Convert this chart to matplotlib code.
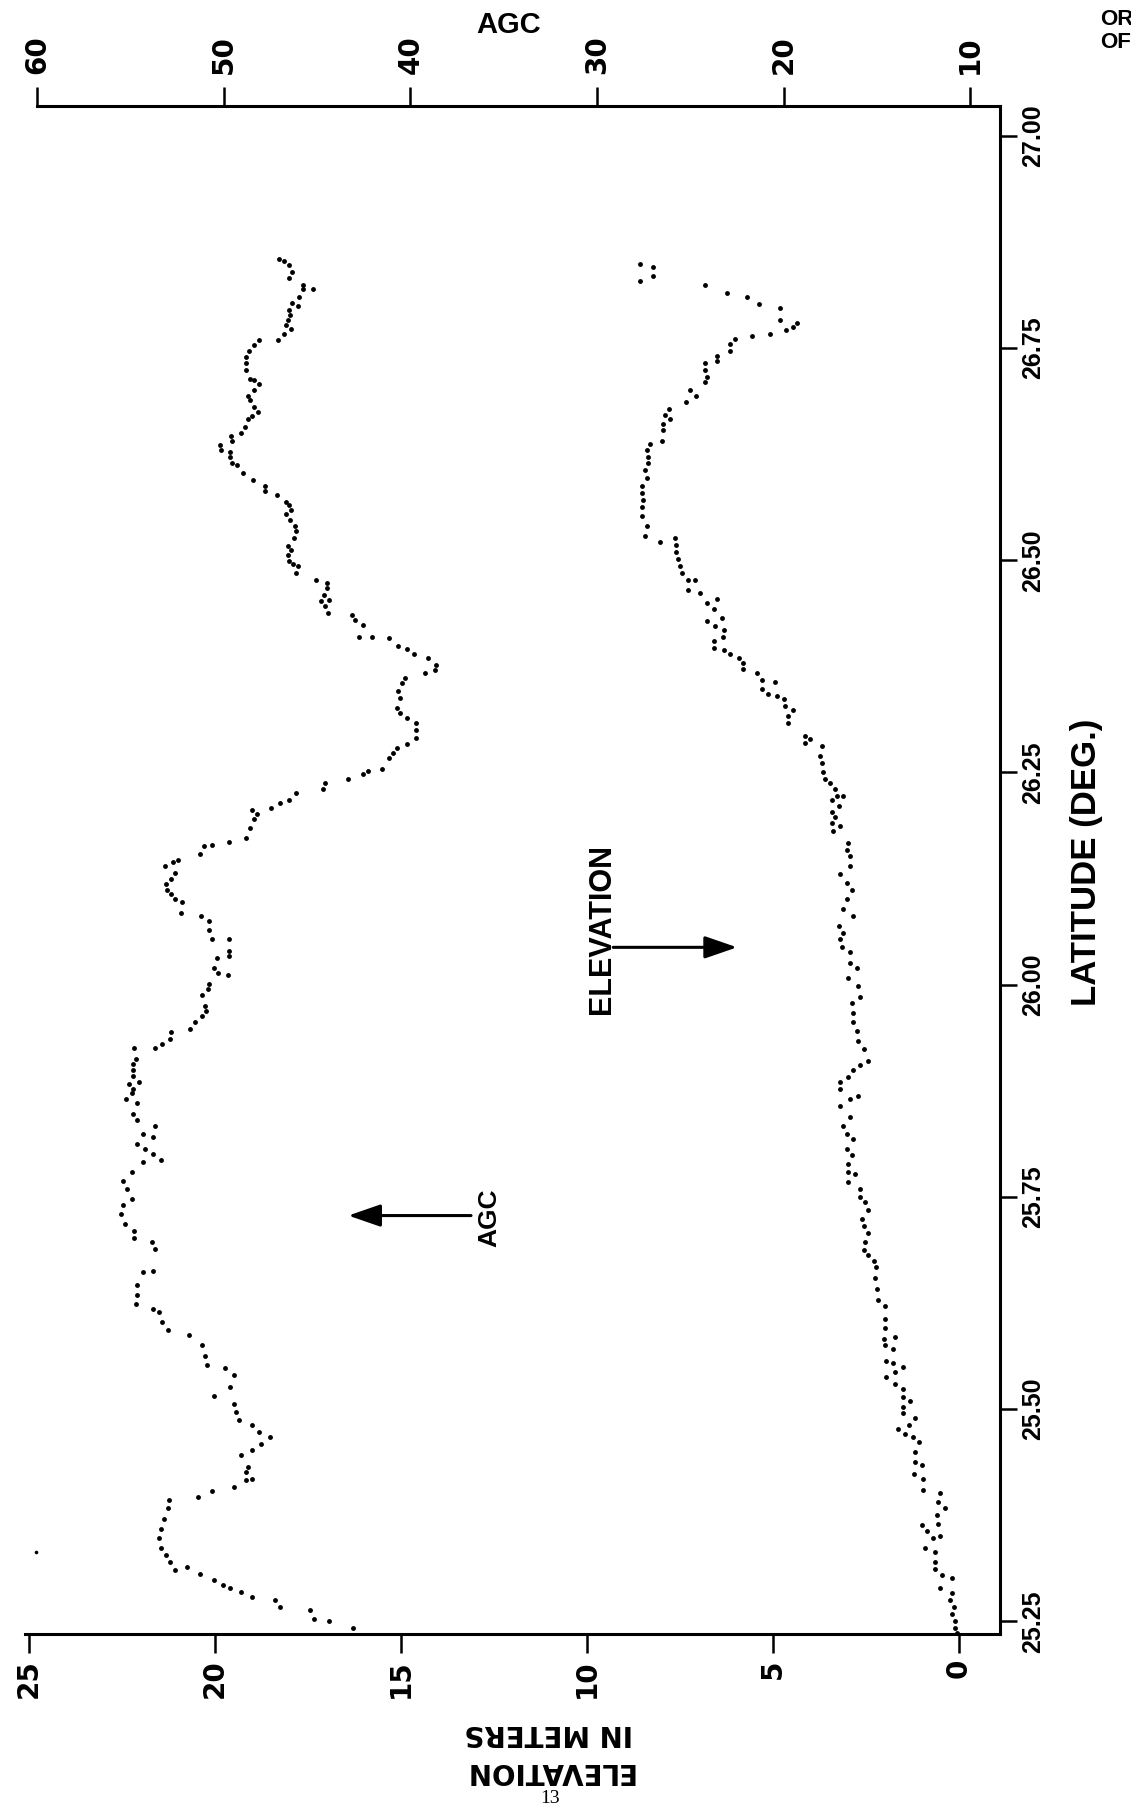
import numpy as np
import matplotlib
matplotlib.use("Agg")
import matplotlib.pyplot as plt

# AGC record, read from top (north) to bottom
agc_lat = [26.855, 26.853, 26.848, 26.840, 26.832, 26.824, 26.820, 26.820, 26.810, 26.803,
           26.799, 26.795, 26.789, 26.783, 26.777, 26.773, 26.767, 26.760, 26.759, 26.754,
           26.746, 26.740, 26.732, 26.724, 26.714, 26.712, 26.708, 26.701, 26.693, 26.689,
           26.681, 26.675, 26.670, 26.666, 26.657, 26.650, 26.646, 26.640, 26.636, 26.630,
           26.628, 26.622, 26.614, 26.612, 26.603, 26.595, 26.587, 26.581, 26.577, 26.569,
           26.565, 26.559, 26.555, 26.548, 26.540, 26.534, 26.526, 26.517, 26.512, 26.506,
           26.499, 26.495, 26.493, 26.485, 26.477, 26.473, 26.467, 26.459, 26.453, 26.452,
           26.446, 26.438, 26.436, 26.430, 26.424, 26.410, 26.410, 26.408,
           26.399, 26.395, 26.389, 26.385, 26.377, 26.371, 26.367, 26.361, 26.355, 26.346,
           26.338, 26.326, 26.320, 26.314, 26.308, 26.300, 26.291, 26.284, 26.279, 26.273,
           26.267, 26.254, 26.252, 26.248, 26.242, 26.238, 26.230, 26.226, 26.218, 26.214,
           26.208, 26.206, 26.201, 26.195, 26.185, 26.173, 26.168, 26.165, 26.163, 26.154,
           26.147, 26.145, 26.140, 26.132, 26.125, 26.119, 26.112, 26.107, 26.101, 26.097,
           26.085, 26.081, 26.075, 26.065, 26.054, 26.054, 26.040, 26.034, 26.031, 26.020,
           26.014, 26.011, 26.001, 25.995, 25.988, 25.975, 25.969, 25.963, 25.956, 25.948,
           25.944, 25.936, 25.930, 25.925, 25.925, 25.913, 25.907, 25.899, 25.893, 25.885,
           25.883, 25.877, 25.872, 25.865, 25.861, 25.848, 25.840, 25.834, 25.824, 25.820,
           25.812, 25.806, 25.801, 25.793, 25.791, 25.779, 25.769, 25.759, 25.748, 25.740,
           25.730, 25.718, 25.710, 25.702, 25.697, 25.689, 25.663, 25.661, 25.646, 25.634,
           25.624, 25.618, 25.614, 25.603, 25.593, 25.587, 25.575, 25.563, 25.552, 25.548,
           25.540, 25.526, 25.516, 25.506, 25.497, 25.487, 25.481, 25.473, 25.467, 25.459,
           25.452, 25.446, 25.432, 25.426, 25.418, 25.416, 25.408, 25.403, 25.397, 25.393,
           25.383, 25.371, 25.359, 25.348, 25.336, 25.328, 25.320, 25.310, 25.314, 25.306,
           25.299, 25.293, 25.289, 25.285, 25.279, 25.275, 25.267, 25.263, 25.253, 25.250,
           25.242]
agc_val = [47.07, 46.79, 46.50, 46.35, 46.54, 45.77, 45.77, 45.25, 45.96, 46.35,
           46.02, 46.50, 46.46, 46.59, 46.69, 46.40, 46.79, 47.11, 48.13, 48.41,
           48.64, 48.83, 48.80, 48.80, 48.61, 48.41, 48.13, 48.41, 48.70, 48.61,
           48.41, 48.18, 48.51, 48.70, 48.89, 49.08, 49.60, 49.56, 50.23, 50.18,
           49.66, 49.66, 49.56, 49.28, 48.99, 48.45, 47.80, 47.80, 47.17, 46.69,
           46.50, 46.40, 46.69, 46.46, 46.21, 46.12, 46.27, 46.59, 46.40, 46.59,
           46.50, 46.31, 46.02, 46.12, 45.06, 44.49, 44.49, 44.62, 44.39, 44.81,
           44.58, 44.43, 43.15, 42.96, 42.57, 42.76, 42.09, 41.14,
           40.66, 40.18, 39.83, 39.07, 38.65, 38.69, 39.22, 40.28, 40.47, 40.66,
           40.56, 40.75, 40.56, 40.18, 39.70, 39.70, 39.70, 40.18, 40.75, 40.95,
           41.14, 41.52, 42.29, 42.57, 43.34, 44.58, 44.68, 46.12, 46.50, 46.98,
           47.46, 48.51, 48.22, 48.41, 48.61, 48.80, 49.75, 50.62, 51.09, 51.29,
           52.44, 52.72, 53.16, 52.63, 52.82, 53.11, 53.05, 52.82, 52.63, 52.24,
           52.28, 51.25, 50.81, 50.81, 50.62, 49.75, 49.75, 49.75, 50.37, 50.52,
           50.33, 49.79, 50.81, 50.86, 51.19, 51.00, 50.94, 51.19, 51.57, 51.82,
           52.86, 52.91, 53.30, 53.68, 54.83, 54.73, 54.89, 54.89, 54.89, 54.54,
           55.08, 54.89, 54.92, 55.27, 54.64, 54.89, 54.64, 53.68, 54.35, 53.78,
           54.64, 54.25, 53.78, 53.39, 54.35, 54.92, 55.40, 55.21, 54.92, 55.40,
           55.50, 55.31, 54.83, 54.83, 53.87, 53.68, 53.78, 54.35, 54.64, 54.64,
           54.73, 53.78, 53.49, 53.30, 53.01, 51.86, 51.19, 51.00, 50.90, 49.95,
           49.47, 49.66, 50.52, 49.47, 49.37, 49.18, 48.51, 48.13, 47.55, 48.03,
           48.51, 49.08, 48.70, 48.80, 48.51, 48.80, 49.47, 50.62, 51.38, 52.95,
           53.01, 53.20, 53.39, 53.49, 53.39, 53.11, 52.91, 52.63, 51.96, 51.29,
           50.52, 50.04, 49.66, 49.08, 48.51, 47.26, 46.98, 45.39, 45.16, 44.39,
           43.08]

stray_lat = [25.332]
stray_agc = [60.10]

# elevation record (meters)
elev_lat = [26.849, 26.846, 26.829, 26.835,
            26.824, 26.815, 26.810, 26.802, 26.797, 26.783, 26.771, 26.775, 26.780, 26.767,
            26.764, 26.761, 26.755, 26.746, 26.741, 26.735, 26.732, 26.724, 26.716, 26.710,
            26.700, 26.693, 26.686, 26.678, 26.671, 26.666, 26.661, 26.654, 26.640, 26.637,
            26.630, 26.622, 26.614, 26.606, 26.597, 26.587, 26.579, 26.571, 26.563, 26.552,
            26.540, 26.528, 26.522, 26.526, 26.518, 26.510, 26.501, 26.493, 26.485, 26.477,
            26.477, 26.465, 26.461, 26.450, 26.454, 26.442, 26.432, 26.429, 26.422, 26.418,
            26.410, 26.405, 26.397, 26.394, 26.389, 26.385, 26.379, 26.372, 26.367, 26.359,
            26.356, 26.348, 26.343, 26.340, 26.336, 26.328, 26.324, 26.316, 26.308,
            26.293, 26.289, 26.285, 26.281, 26.269, 26.261, 26.250, 26.242, 26.238, 26.230,
            26.222, 26.222, 26.218, 26.210, 26.203, 26.197, 26.187, 26.191, 26.181, 26.167,
            26.159, 26.152, 26.140, 26.130, 26.120, 26.112, 26.101, 26.089, 26.081, 26.069,
            26.061, 26.054, 26.044, 26.038, 26.026, 26.020, 26.008, 25.999, 25.985, 25.979,
            25.967, 25.956, 25.946, 25.934, 25.924, 25.910, 25.905, 25.899, 25.891, 25.885,
            25.877, 25.869, 25.865, 25.857, 25.844, 25.834, 25.824, 25.818, 25.807, 25.799,
            25.789, 25.779, 25.777, 25.767, 25.759, 25.750, 25.744, 25.734, 25.724, 25.716,
            25.708, 25.697, 25.687, 25.681, 25.675, 25.667, 25.654, 25.642, 25.628, 25.622,
            25.606, 25.595, 25.583, 25.585, 25.575, 25.571, 25.557, 25.554, 25.550, 25.544,
            25.538, 25.530, 25.524, 25.514, 25.510, 25.503, 25.495, 25.489, 25.481, 25.477,
            25.471, 25.467, 25.461, 25.450, 25.438, 25.434, 25.424, 25.418, 25.405, 25.401,
            25.391, 25.383, 25.375, 25.365, 25.363, 25.356, 25.348, 25.350, 25.336, 25.332,
            25.320, 25.312, 25.305, 25.301, 25.289, 25.283, 25.275, 25.267, 25.259, 25.250,
            25.242, 25.236]
elev_val = [8.59, 8.24, 8.59, 8.24,
            6.83, 6.25, 5.71, 5.37, 4.81, 4.81, 4.65, 4.47, 4.36, 5.08,
            5.57, 6.02, 6.16, 6.16, 6.51, 6.51, 6.83, 6.83, 6.78, 6.83,
            7.23, 7.07, 7.34, 7.81, 7.90, 7.77, 7.95, 7.95, 7.99, 8.31,
            8.40, 8.35, 8.35, 8.44, 8.40, 8.53, 8.53, 8.49, 8.53, 8.53,
            8.40, 8.44, 8.04, 7.63, 7.61, 7.61, 7.55, 7.50, 7.46, 7.30,
            7.10, 7.28, 6.96, 6.78, 6.51, 6.60, 6.38, 6.78, 6.56, 6.33,
            6.35, 6.60, 6.59, 6.33, 6.16, 5.93, 5.80, 5.80, 5.44, 5.30,
            4.95, 5.30, 5.13, 4.90, 4.72, 4.68, 4.47, 4.59, 4.59,
            4.14, 4.01, 4.14, 3.69, 3.74, 3.69, 3.65, 3.60, 3.47, 3.33,
            3.29, 3.11, 3.42, 3.24, 3.42, 3.33, 3.20, 3.42, 3.38, 2.98,
            3.02, 2.93, 2.93, 3.20, 3.02, 2.89, 3.02, 3.11, 2.84, 3.24,
            3.11, 3.20, 3.15, 2.93, 2.93, 2.75, 2.98, 2.71, 2.66, 2.89,
            2.84, 2.84, 2.75, 2.71, 2.57, 2.44, 2.66, 2.84, 2.98, 3.20,
            3.20, 2.71, 2.93, 3.20, 2.93, 3.11, 3.02, 2.84, 3.02, 2.89,
            2.98, 2.98, 2.80, 2.98, 2.66, 2.66, 2.53, 2.44, 2.62, 2.57,
            2.44, 2.53, 2.57, 2.44, 2.30, 2.23, 2.26, 2.21, 2.17, 1.99,
            1.99, 1.99, 2.03, 1.72, 1.99, 1.77, 1.96, 1.77, 1.51, 1.72,
            1.96, 1.72, 1.51, 1.50, 1.32, 1.50, 1.50, 1.18, 1.36, 1.63,
            1.45, 1.23, 1.09, 1.18, 1.18, 1.00, 1.21, 0.96, 0.96, 0.51,
            0.56, 0.38, 0.60, 0.56, 1.00, 0.87, 0.69, 0.51, 0.91, 0.65,
            0.65, 0.65, 0.47, 0.20, 0.51, 0.20, 0.24, 0.15, 0.20, 0.11,
            0.11, 0.06]

elev_ticks = [0, 5, 10, 15, 20, 25]
agc_ticks = [10, 20, 30, 40, 50, 60]
lat_ticks = [25.25, 25.50, 25.75, 26.00, 26.25, 26.50, 26.75, 27.00]

bold = dict(family='DejaVu Sans', fontweight='bold')
arial_b = dict(family='Liberation Sans', fontweight='bold')

fig = plt.figure(figsize=(11.31, 18.14), dpi=100)
ax = fig.add_axes([0.0221, 0.0992, 0.8621, 0.8423])
ax.set_xlim(25.11, -1.10)
ax.set_ylim(25.235, 27.035)
ax2 = ax.twiny()
ax2.set_xlim(60.67, 8.39)

ax.plot(elev_val, elev_lat, 'o', color='black', ms=3.5, mew=0, clip_on=False)
ax2.plot(agc_val, agc_lat, 'o', color='black', ms=3.5, mew=0)
ax2.plot(stray_agc, stray_lat, 'o', color='black', ms=2.6, mew=0)

for s in ['left', 'top']:
    ax.spines[s].set_visible(False)
for s in ['left', 'right', 'bottom']:
    ax2.spines[s].set_visible(False)
for sp in [ax.spines['right'], ax.spines['bottom'], ax2.spines['top']]:
    sp.set_linewidth(2.2)
ax2.spines['top'].set_bounds(60, 8.39)

# bottom: elevation
ax.set_xticks(elev_ticks)
ax.set_xticklabels([str(t) for t in elev_ticks], rotation=90, fontsize=20, **bold)
ax.tick_params(axis='x', direction='out', length=14, width=1.8, pad=4)

# right: latitude
ax.yaxis.tick_right()
ax.set_yticks(lat_ticks)
ax.set_yticklabels(['%.2f' % t for t in lat_ticks], rotation=90, va='center', fontsize=18, **arial_b)
ax.tick_params(axis='y', direction='out', length=12, width=1.8, pad=3)

# top: AGC
ax2.set_xticks(agc_ticks)
ax2.set_xticklabels([str(t) for t in agc_ticks], rotation=90, fontsize=20, **bold)
ax2.tick_params(axis='x', direction='out', length=14, width=1.8, pad=9)

ax.text(1.089, 0.505, 'LATITUDE (DEG.)', transform=ax.transAxes, rotation=90,
        ha='center', va='center', fontsize=25, **arial_b)

arrow = dict(arrowstyle='-|>,head_length=1.1,head_width=0.38', lw=2.2,
             color='black', mutation_scale=18, shrinkA=0, shrinkB=0)
ax.text(9.60, 26.066, 'ELEVATION', rotation=90, ha='center', va='center', fontsize=22, **arial_b)
ax.annotate('', xy=(5.97, 26.044), xytext=(9.30, 26.044), arrowprops=arrow)
ax.text(12.63, 25.726, 'AGC', rotation=90, ha='center', va='center', fontsize=19, **arial_b)
ax.annotate('', xy=(16.42, 25.728), xytext=(13.12, 25.728), arrowprops=arrow)

fig.text(0.450, 0.986, 'AGC', ha='center', va='center', fontsize=21, **arial_b)
fig.text(0.485, 1 - 1752 / 1814, 'ELEVATION\nIN METERS', rotation=180, ha='center',
         va='center', multialignment='center', linespacing=1.45, fontsize=20, **bold)
fig.text(0.486, 1 - 1790 / 1814, '13', ha='center', va='top', fontsize=14,
         family='Liberation Serif')
fig.text(0.973, 1 - 25 / 1814, 'OR', ha='left', va='baseline', fontsize=16, **arial_b)
fig.text(0.973, 1 - 48 / 1814, 'OF', ha='left', va='baseline', fontsize=16, **arial_b)

fig.savefig('out.png', dpi=100, facecolor='white')
